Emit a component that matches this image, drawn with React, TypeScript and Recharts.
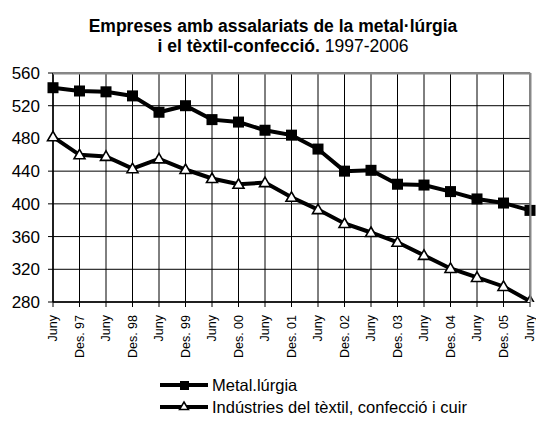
import React from "react";
import { LineChart, Line, XAxis, YAxis, CartesianGrid } from "recharts";

const categories = [
  "Juny", "Des. 97", "Juny", "Des. 98", "Juny", "Des. 99", "Juny", "Des. 00",
  "Juny", "Des. 01", "Juny", "Des. 02", "Juny", "Des. 03", "Juny", "Des. 04",
  "Juny", "Des. 05", "Juny",
];
const metalValues = [542, 538, 537, 532, 512, 520, 503, 500, 490, 484, 467, 440, 441, 424, 423, 415, 406, 401, 392];
const textilValues = [482, 460, 458, 443, 455, 442, 431, 424, 426, 408, 393, 376, 365, 353, 337, 321, 310, 299, 281];
const yTicks = [280, 320, 360, 400, 440, 480, 520, 560];

const data = categories.map((c, i) => ({
  id: i,
  label: c,
  metal: metalValues[i],
  textil: textilValues[i],
}));

const FONT = "'Liberation Sans', Arial, sans-serif";

const SquareDot = (props: any) => {
  const { cx, cy } = props;
  if (cx == null || cy == null) return null;
  return <rect x={cx - 5.5} y={cy - 5.5} width={11} height={11} fill="#000" />;
};

const TriangleDot = (props: any) => {
  const { cx, cy } = props;
  if (cx == null || cy == null) return null;
  const pts = `${cx},${cy - 5.5} ${cx + 5.5},${cy + 4} ${cx - 5.5},${cy + 4}`;
  return <polygon points={pts} fill="#fff" stroke="#000" strokeWidth={1.6} />;
};

const XTick = (props: any) => {
  const { x, y, payload } = props;
  const label = categories[payload.value] ?? "";
  return (
    <g transform={`translate(${x},${y})`}>
      <text
        transform="rotate(-90)"
        x={-(315 - y)}
        y={0}
        dy="0.35em"
        textAnchor="end"
        fontFamily={FONT}
        fontSize={12.5}
        fill="#000"
      >
        {label}
      </text>
    </g>
  );
};

export default function App() {
  return (
    <div style={{ position: "absolute", left: 0, top: 0, width: 536, height: 423, background: "#fff" }}>
      <style>{`body{margin:0;}`}</style>
      <svg width={536} height={70} style={{ position: "absolute", left: 0, top: 0 }}>
        <text x={273} y={32} textAnchor="middle" fontFamily={FONT} fontSize={17.5} fontWeight="bold" fill="#000">
          Empreses amb assalariats de la metal·lúrgia
        </text>
        <text x={283} y={52} textAnchor="middle" fontFamily={FONT} fontSize={17.5} fill="#000">
          <tspan fontWeight="bold">i el tèxtil-confecció.</tspan>
          <tspan> 1997-2006</tspan>
        </text>
      </svg>
      <div style={{ position: "absolute", left: 0, top: 0 }}>
        <LineChart
          width={536}
          height={423}
          data={data}
          margin={{ top: 73, right: 6, bottom: 61, left: 0 }}
        >
          <CartesianGrid stroke="#000" strokeWidth={1} />
          <XAxis
            dataKey="id"
            type="category"
            interval={0}
            height={60}
            tick={<XTick />}
            tickSize={5}
            axisLine={{ stroke: "#000", strokeWidth: 1.5 }}
            tickLine={{ stroke: "#000" }}
          />
          <YAxis
            domain={[280, 560]}
            ticks={yTicks}
            width={53}
            tickSize={5}
            tickMargin={8}
            interval={0}
            allowDataOverflow
            axisLine={{ stroke: "#000", strokeWidth: 1.5 }}
            tickLine={{ stroke: "#000" }}
            tick={{ fontFamily: FONT, fontSize: 17, fill: "#000" }}
          />
          <Line
            dataKey="metal"
            stroke="#000"
            strokeWidth={4}
            dot={<SquareDot />}
            activeDot={false}
            isAnimationActive={false}
          />
          <Line
            dataKey="textil"
            stroke="#000"
            strokeWidth={4}
            dot={<TriangleDot />}
            activeDot={false}
            isAnimationActive={false}
          />
        </LineChart>
      </div>
      <svg width={536} height={423} style={{ position: "absolute", left: 0, top: 0, pointerEvents: "none" }}>
        <line x1={53} y1={73.5} x2={530.5} y2={73.5} stroke="#888" strokeWidth={2} />
        <line x1={530.5} y1={73} x2={530.5} y2={302} stroke="#888" strokeWidth={2} />
        <line x1={160} y1={385} x2={208} y2={385} stroke="#000" strokeWidth={4} />
        <rect x={180} y={381} width={9} height={9} fill="#000" />
        <text x={212} y={391} fontFamily={FONT} fontSize={16.5} fill="#000">Metal.lúrgia</text>
        <line x1={160} y1={407} x2={208} y2={407} stroke="#000" strokeWidth={4} />
        <polygon points="184,402 188.5,409.5 179.5,409.5" fill="#fff" stroke="#000" strokeWidth={1.5} />
        <text x={212} y={413} fontFamily={FONT} fontSize={16.5} fill="#000">Indústries del tèxtil, confecció i cuir</text>
      </svg>
    </div>
  );
}
